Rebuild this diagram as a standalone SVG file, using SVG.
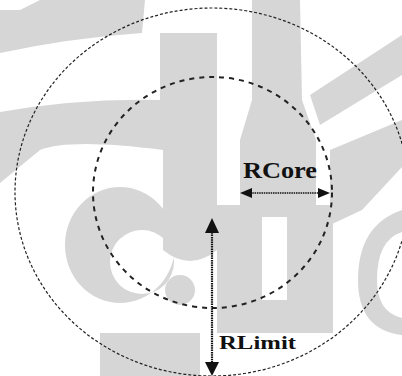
<svg xmlns="http://www.w3.org/2000/svg" width="402" height="376" viewBox="0 0 402 376">
<style>
.lbl{font-family:"Liberation Serif","Times New Roman",serif;font-weight:bold;fill:#111}
.outer{fill:none;stroke:#222;stroke-width:1.2;stroke-dasharray:3 2}
.inner{fill:none;stroke:#222;stroke-width:2;stroke-dasharray:5 5}
.dim{stroke:#111;stroke-width:1.6;stroke-dasharray:1.5 0.8}
.head{fill:#111}
.wm{fill:#d6d6d6}
</style>
<rect width="402" height="376" fill="#fff"/>
<g id="watermark">
<path class="wm" d="M0,10 L20,10 L40,0 L145,0 L142,33 Q70,38 0,53 Z"/>
<path class="wm" d="M0,112 Q80,98 160,100 L160,33 L217,33 L217,250 Q190,272 163,250 L163,150 Q70,138 40,150 L0,183 Z"/>
<path class="wm" d="M252,0 L300,0 L302,100 L316,140 L316,210 L240,210 L240,140 L252,100 Z"/>
<path class="wm" d="M330,150 L402,120 L402,167 L362,210 L330,225 Z"/>
<path class="wm" d="M310,95 L402,35 L402,75 L320,125 Z"/>
<path class="wm" fill-rule="evenodd" d="M65,245 a55,58 0 1,0 110,0 a55,58 0 1,0 -110,0 Z M110,262 a32,32 0 1,0 64,0 a32,32 0 1,0 -64,0 Z"/>
<circle class="wm" cx="180" cy="290" r="15"/>
<path class="wm" fill-rule="evenodd" d="M217,205 L333,205 L333,333 L217,333 Z M262,217 L287,217 L287,300 L262,300 Z"/>
<path class="wm" d="M402,210 Q358,225 358,280 Q358,330 402,335 L402,318 Q377,312 377,280 Q377,240 402,232 Z"/>
<path class="wm" d="M100,333 L200,333 L200,376 L100,376 Z"/>
</g>
<g id="outer-circle"><ellipse class="outer" cx="212" cy="192" rx="197" ry="184"/></g>
<g id="inner-circle"><ellipse class="inner" cx="212.5" cy="192.5" rx="119.5" ry="115.5"/></g>
<g id="connectors">
<line class="dim" x1="250" y1="193" x2="320" y2="193"/>
<polygon class="head" points="240,193 252,188 252,198"/>
<polygon class="head" points="330,193 318,188 318,198"/>
<line class="dim" x1="212" y1="230" x2="212" y2="364" style="stroke-width:2.2"/>
<polygon class="head" points="212,218 205,233 219,233"/>
<polygon class="head" points="212,376 205,362 219,362"/>
</g>
<g id="label-rcore"><text class="lbl" x="243" y="178" font-size="23" textLength="74" lengthAdjust="spacingAndGlyphs">RCore</text></g>
<g id="label-rlimit"><text class="lbl" x="219" y="349" font-size="19" textLength="77" lengthAdjust="spacingAndGlyphs">RLimit</text></g>
</svg>
